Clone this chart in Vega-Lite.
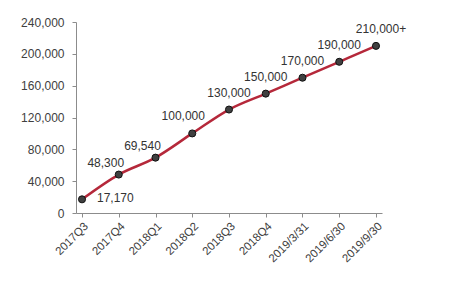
{
  "$schema": "https://vega.github.io/schema/vega-lite/v6.json",
  "width": 306,
  "height": 191,
  "autosize": "none",
  "padding": {"left": 76, "top": 22, "right": 67, "bottom": 69},
  "background": "white",
  "config": {
    "view": {"stroke": null},
    "font": "Liberation Sans",
    "axis": {"grid": false, "domainColor": "#8c8c8c", "tickColor": "#8c8c8c", "labelColor": "#404040", "labelFont": "Liberation Sans", "labelFontSize": 12, "title": null}
  },
  "data": {
    "values": [
      {"period": "2017Q3", "value": 17170, "label": "17,170"},
      {"period": "2017Q4", "value": 48300, "label": "48,300"},
      {"period": "2018Q1", "value": 69540, "label": "69,540"},
      {"period": "2018Q2", "value": 100000, "label": "100,000"},
      {"period": "2018Q3", "value": 130000, "label": "130,000"},
      {"period": "2018Q4", "value": 150000, "label": "150,000"},
      {"period": "2019/3/31", "value": 170000, "label": "170,000"},
      {"period": "2019/6/30", "value": 190000, "label": "190,000"},
      {"period": "2019/9/30", "value": 210000, "label": "210,000+"}
    ]
  },
  "encoding": {
    "x": {"field": "period", "type": "ordinal", "sort": null,
      "scale": {"type": "point", "padding": 0.1635},
      "axis": {"labelAngle": -45, "labelAlign": "right", "labelBaseline": "top", "tickSize": 4, "labelPadding": 3, "labelFontSize": 11.5}},
    "y": {"field": "value", "type": "quantitative",
      "scale": {"domain": [0, 240000], "nice": false},
      "axis": {"values": [0, 40000, 80000, 120000, 160000, 200000, 240000], "format": ",.0f", "tickSize": 4, "labelPadding": 8}}
  },
  "layer": [
    {"mark": {"type": "line", "color": "#b5283a", "strokeWidth": 2.5, "interpolate": "monotone"}},
    {"mark": {"type": "point", "filled": true, "fill": "#404040", "stroke": "#111111", "strokeWidth": 1, "size": 50, "opacity": 1}},
    {"transform": [{"filter": "datum.value >= 130000 && datum.value <= 190000"}],
      "mark": {"type": "text", "dy": -17, "fontSize": 12, "color": "#333333"},
      "encoding": {"text": {"field": "label"}}},
    {"transform": [{"filter": "datum.value == 210000"}],
      "mark": {"type": "text", "dy": -17, "dx": 5, "fontSize": 12, "color": "#333333"},
      "encoding": {"text": {"field": "label"}}},
    {"transform": [{"filter": "datum.value == 100000"}],
      "mark": {"type": "text", "dy": -17, "dx": -9, "fontSize": 12, "color": "#333333"},
      "encoding": {"text": {"field": "label"}}},
    {"transform": [{"filter": "datum.value == 48300 || datum.value == 69540"}],
      "mark": {"type": "text", "dy": -12, "dx": -13, "fontSize": 12, "color": "#333333"},
      "encoding": {"text": {"field": "label"}}},
    {"transform": [{"filter": "datum.value == 17170"}],
      "mark": {"type": "text", "dy": -1, "dx": 15, "align": "left", "fontSize": 12, "color": "#333333"},
      "encoding": {"text": {"field": "label"}}}
  ]
}
